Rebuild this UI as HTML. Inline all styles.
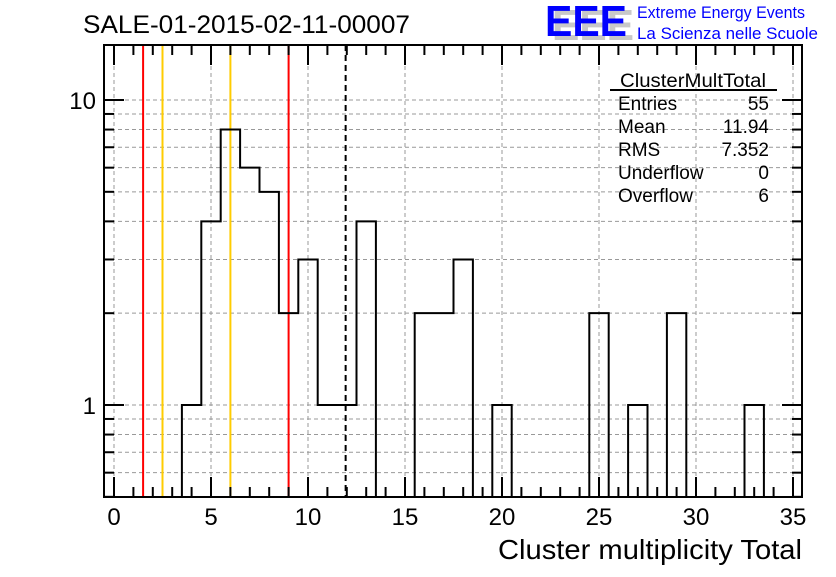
<!DOCTYPE html>
<html><head><meta charset="utf-8"><style>
body{margin:0;background:#fff;width:836px;height:572px;overflow:hidden}
svg{font-family:"Liberation Sans",sans-serif}
</style></head><body>
<svg id="chart" width="836" height="572" xmlns="http://www.w3.org/2000/svg">
<rect width="836" height="572" fill="#fff"/>
<g id="grid"></g>
<g id="marks"></g>
<g id="axes"></g>
<text x="83" y="33" font-size="25" textLength="327" lengthAdjust="spacingAndGlyphs">SALE-01-2015-02-11-00007</text>
<g>
<text x="552" y="40" font-size="44" font-weight="bold" fill="#c8c8c8" textLength="82" lengthAdjust="spacingAndGlyphs">EEE</text>
<text x="545" y="36" font-size="44" font-weight="bold" fill="#0000ff" textLength="82" lengthAdjust="spacingAndGlyphs">EEE</text>
<text x="637" y="18" font-size="17" fill="#0000ff" textLength="168" lengthAdjust="spacingAndGlyphs">Extreme Energy Events</text>
<text x="637" y="39" font-size="17" fill="#0000ff" textLength="181" lengthAdjust="spacingAndGlyphs">La Scienza nelle Scuole</text>
</g>
<g font-size="19">
<text x="620" y="87" textLength="146" lengthAdjust="spacingAndGlyphs">ClusterMultTotal</text>
<line x1="610" y1="90" x2="777" y2="90" stroke="#000" stroke-width="2"/>
<text x="618" y="110">Entries</text><text x="769" y="110" text-anchor="end">55</text>
<text x="618" y="133">Mean</text><text x="769" y="133" text-anchor="end">11.94</text>
<text x="618" y="156">RMS</text><text x="769" y="156" text-anchor="end">7.352</text>
<text x="618" y="179">Underflow</text><text x="769" y="179" text-anchor="end">0</text>
<text x="618" y="202">Overflow</text><text x="769" y="202" text-anchor="end">6</text>
</g>
<text x="802" y="559" font-size="28" text-anchor="end" textLength="304" lengthAdjust="spacingAndGlyphs">Cluster multiplicity Total</text>
</svg>
<script>
const binCenters=[4,5,6,7,8,9,10,11,12,13,14,15,16,17,18,19,20,21,22,23,24,25,26,27,28,29,30,31,32,33,34];
const counts=[1,4,8,6,5,2,3,1,1,4,0,0,2,2,3,0,1,0,0,0,0,2,0,1,0,2,0,0,0,1,0];
const xTicks=[0,5,10,15,20,25,30,35];
const yTickLabels=[1,10];
const redLines=[1.5,9];
const orangeLines=[2.5,6];
const meanLine=[11.94];
const L=104,R=802,T=45,B=497;
const X0=114,XS=19.4;
const Y1=405,DEC=305;
const X=v=>X0+v*XS;
const Y=v=>v<=0?B:Y1-Math.log10(v)*DEC;
const NS="http://www.w3.org/2000/svg";
function mk(t,a,p){const e=document.createElementNS(NS,t);for(const k in a)e.setAttribute(k,a[k]);p.appendChild(e);return e;}
const grid=document.getElementById('grid'),marks=document.getElementById('marks'),axes=document.getElementById('axes');
xTicks.forEach(t=>{if(X(t)<R){const g=mk('line',{x1:X(t),x2:X(t),y1:T,y2:B,stroke:'#999','stroke-dasharray':'4,3','stroke-width':1},grid);

}});
const yt=[];for(let d of [0.1,1,10])for(let m=1;m<10;m++){const v=d*m;if(Y(v)>T&&Y(v)<B)yt.push(v);}
yt.forEach(v=>{const g=mk('line',{x1:L,x2:R,y1:Y(v),y2:Y(v),stroke:'#999','stroke-dasharray':'4,3','stroke-width':1},grid);


const tk=mk('line',{x1:L,x2:L+(yTickLabels.includes(Math.round(v*10)/10)?20:10),y1:Y(v),y2:Y(v),stroke:'#000','stroke-width':2},axes);


const tk2=mk('line',{x1:R,x2:R-(yTickLabels.includes(Math.round(v*10)/10)?20:10),y1:Y(v),y2:Y(v),stroke:'#000','stroke-width':2},axes);

});
yTickLabels.forEach(v=>{const t=mk('text',{x:L-8,y:Y(v)+9,'font-size':24,'text-anchor':'end'},axes);t.textContent=v;

});
for(let v=0;v<=35;v++){const maj=v%5===0;const x=X(v);if(x>R)continue;
const a=mk('line',{x1:x,x2:x,y1:B,y2:B-(maj?20:10),stroke:'#000','stroke-width':2},axes);


const b=mk('line',{x1:x,x2:x,y1:T,y2:T+(maj?20:10),stroke:'#000','stroke-width':2},axes);

}
xTicks.forEach(v=>{const t=mk('text',{x:X(v),y:B+28,'font-size':24,'text-anchor':'middle'},axes);t.textContent=v;

});
redLines.forEach(v=>{const l=mk('line',{x1:X(v),x2:X(v),y1:T,y2:B,stroke:'#ff0000','stroke-width':2},marks);

});
orangeLines.forEach(v=>{const l=mk('line',{x1:X(v),x2:X(v),y1:T,y2:B,stroke:'#ffcc00','stroke-width':2},marks);

});
meanLine.forEach(v=>{const l=mk('line',{x1:X(v),x2:X(v),y1:T,y2:B,stroke:'#000','stroke-width':2,'stroke-dasharray':'6,4'},marks);

});
let d=`M${X(binCenters[0]-0.5)},${B}`;
binCenters.forEach((c,i)=>{const y=Math.max(T,Math.min(B,Y(counts[i])));d+=` L${X(c-0.5)},${y} L${X(c+0.5)},${y}`;});
d+=` L${X(binCenters[binCenters.length-1]+0.5)},${B}`;
const h=mk('path',{d:d,fill:'none',stroke:'#000','stroke-width':2},marks);


const fr=mk('rect',{x:L,y:T,width:R-L,height:B-T,fill:'none',stroke:'#000','stroke-width':2},axes);


</script>
</body></html>
